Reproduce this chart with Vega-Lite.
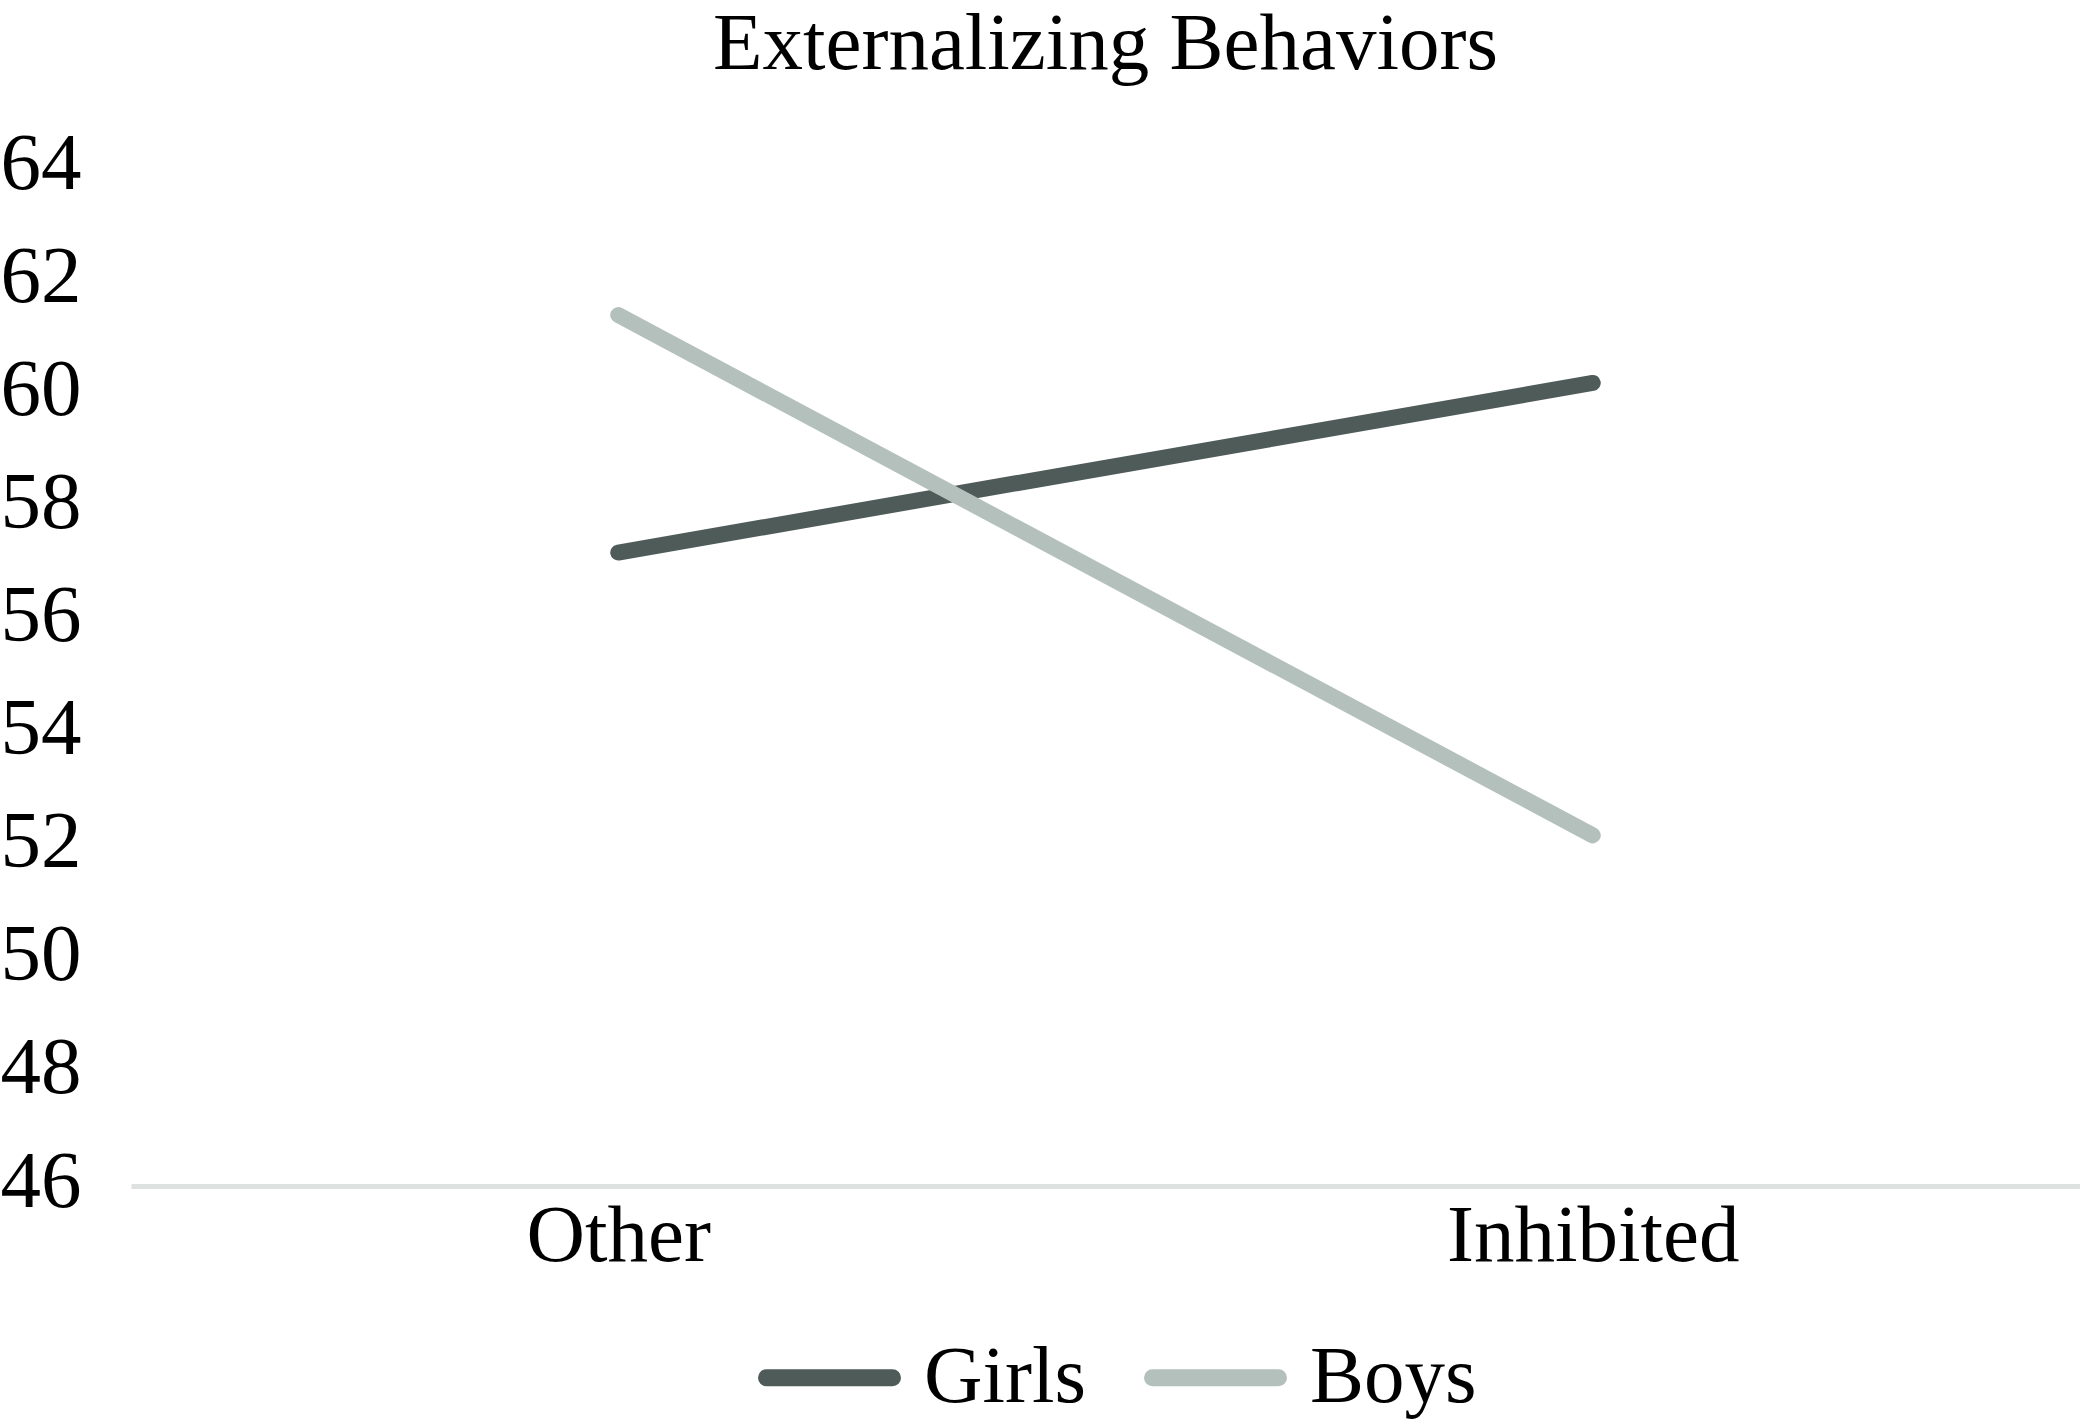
{
  "$schema": "https://vega.github.io/schema/vega-lite/v6.json",
  "width": 1949,
  "height": 1018,
  "autosize": {"type": "none"},
  "padding": {"left": 131, "top": 168, "right": 0, "bottom": 238},
  "background": "white",
  "config": {"view": {"stroke": null}},
  "title": {
    "text": "Externalizing Behaviors",
    "font": "Liberation Serif",
    "fontSize": 81,
    "fontWeight": "normal",
    "color": "#000000",
    "anchor": "middle",
    "frame": "group",
    "baseline": "top",
    "offset": 37,
    "limit": 0
  },
  "data": {
    "values": [
      {"group": "Girls", "temperament": "Other", "score": 57.2},
      {"group": "Girls", "temperament": "Inhibited", "score": 60.2},
      {"group": "Boys", "temperament": "Other", "score": 61.4},
      {"group": "Boys", "temperament": "Inhibited", "score": 52.2}
    ]
  },
  "mark": {"type": "line", "strokeWidth": 16, "strokeCap": "round", "strokeJoin": "round"},
  "encoding": {
    "x": {
      "field": "temperament",
      "type": "nominal",
      "sort": ["Other", "Inhibited"],
      "scale": {"type": "point", "padding": 0.5},
      "axis": {
        "title": null,
        "labelAngle": 0,
        "labelFont": "Liberation Serif",
        "labelFontSize": 81,
        "labelColor": "#000000",
        "labelPadding": 10,
        "labelLimit": 0,
        "ticks": false,
        "domainColor": "#dde2e1",
        "domainWidth": 5,
        "grid": false
      }
    },
    "y": {
      "field": "score",
      "type": "quantitative",
      "scale": {"domain": [46, 64], "nice": false, "zero": false},
      "axis": {
        "title": null,
        "values": [46, 48, 50, 52, 54, 56, 58, 60, 62, 64],
        "labelFont": "Liberation Serif",
        "labelFontSize": 81,
        "labelColor": "#000000",
        "labelPadding": 50,
        "labelOffset": -4,
        "labelLimit": 0,
        "ticks": false,
        "domain": false,
        "grid": false
      }
    },
    "color": {
      "field": "group",
      "type": "nominal",
      "scale": {"domain": ["Girls", "Boys"], "range": ["#4f5b59", "#b4c0bc"]},
      "legend": {
        "title": null,
        "orient": "none",
        "direction": "horizontal",
        "legendX": 627,
        "legendY": 1138,
        "padding": 0,
        "symbolType": "stroke",
        "symbolSize": 15876,
        "symbolStrokeWidth": 17,
        "labelFont": "Liberation Serif",
        "labelFontSize": 81,
        "labelColor": "#000000",
        "labelOffset": 23,
        "labelLimit": 0,
        "columnPadding": 32,
        "encode": {"symbols": {"update": {"strokeCap": {"value": "round"}}}}
      }
    }
  }
}
